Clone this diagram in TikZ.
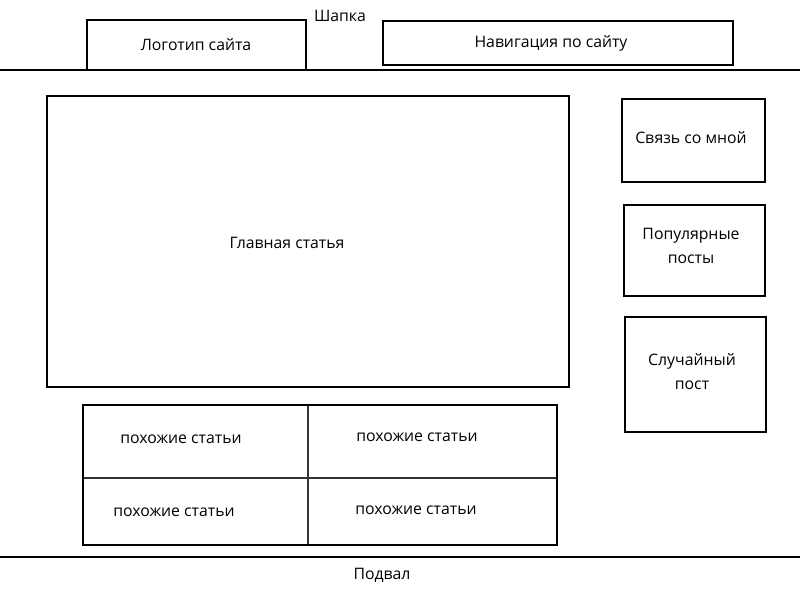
\documentclass[tikz,border=0pt]{standalone}
\usepackage{fontspec}
\setmainfont{Open Sans}
\begin{document}
\begin{tikzpicture}[x=1pt,y=-1pt,
  box/.style={draw=black,line width=2pt},
  lbl/.style={font=\fontsize{15.8}{24}\selectfont,align=center,inner sep=0pt},
  sep/.style={draw=black,line width=2pt},
  inner/.style={draw=black!80,line width=1.5pt}]
\useasboundingbox[fill=white] (0,0) rectangle (800,600);
% header / footer lines
\coordinate (hl) at (0,70); \coordinate (hr) at (800,70);
\coordinate (fl) at (0,557); \coordinate (fr) at (800,557);
\draw[sep] (hl) -- (hr);
\draw[sep] (fl) -- (fr);
\node[lbl] (shapka) at (340,16) {Шапка};
\node[lbl] (podval) at (382,575) {Подвал};
% header boxes
\draw[box] (87,70) |- (306,20) -- (306,70);
\node[lbl] (logo) at (196,45) {Логотип сайта};
\draw[box] (383,21) rectangle (733,65);
\node[lbl] (nav) at (551,43) {Навигация по сайту};
% main
\draw[box] (47,96) rectangle (569,387);
\node[lbl] (main) at (287,243) {Главная статья};
% sidebar
\draw[box] (622,99) rectangle (765,182);
\node[lbl] (contact) at (691,138) {Связь со мной};
\draw[box] (624,205) rectangle (765,296);
\node[lbl] (popular) at (691,246) {Популярные\\посты};
\draw[box] (625,317) rectangle (766,432);
\node[lbl] (random) at (692,372) {Случайный\\пост};
% related grid
\draw[inner] (308,405) -- (308,545);
\draw[inner] (83,478) -- (557,478);
\draw[box] (83,405) rectangle (557,545);
\node[lbl] (r1) at (181,439) {похожие статьи};
\node[lbl] (r2) at (417,437) {похожие статьи};
\node[lbl] (r3) at (174,512) {похожие статьи};
\node[lbl] (r4) at (416,510) {похожие статьи};
\end{tikzpicture}
\end{document}
